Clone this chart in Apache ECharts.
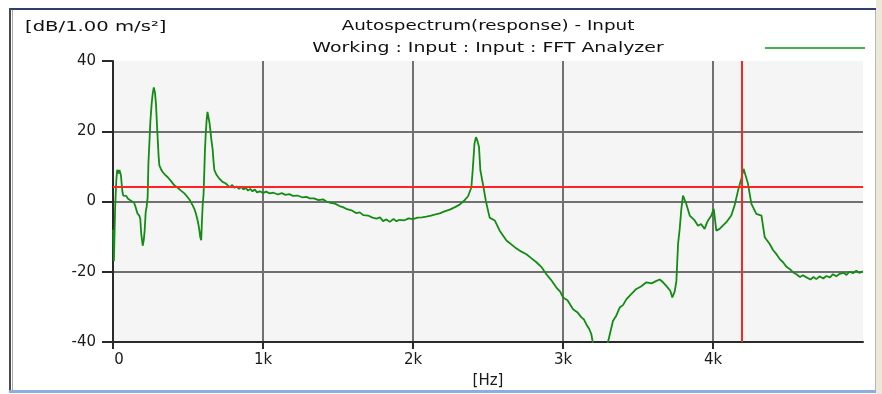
<!DOCTYPE html>
<html>
<head>
<meta charset="utf-8">
<script src="https://cdn.jsdelivr.net/npm/echarts@6/dist/echarts.min.js"></script>
<style>html,body{margin:0;padding:0;background:#fff}#c{width:882px;height:394px}</style>
</head>
<body>
<div id="c"></div>
<script>
const freqHz = [0,6,14,22,28,36,43,53,62,68,78,88,100,112,125,140,150,163,175,182,188,198,205,211,218,224,231,236,243,249,258,265,272,280,287,293,298,304,309,320,331,348,365,387,409,431,453,476,498,515,531,543,553,562,569,576,582,588,593,598,604,609,613,618,624,630,636,643,649,656,664,670,676,690,709,730,750,765,780,795,810,825,840,855,870,885,900,915,930,945,960,979,1000,1020,1045,1070,1100,1125,1150,1175,1200,1230,1260,1290,1311,1340,1370,1400,1423,1450,1480,1510,1533,1560,1590,1620,1645,1670,1700,1730,1756,1780,1800,1823,1845,1870,1890,1911,1940,1970,2000,2030,2060,2089,2120,2150,2178,2210,2245,2280,2311,2340,2367,2389,2398,2410,2420,2428,2440,2449,2470,2485,2511,2545,2578,2623,2678,2720,2756,2790,2823,2855,2889,2920,2956,2980,3000,3030,3067,3095,3123,3140,3156,3175,3189,3200,3230,3260,3290,3300,3333,3355,3378,3400,3423,3455,3489,3520,3556,3590,3623,3645,3667,3690,3715,3729,3745,3756,3767,3778,3789,3800,3810,3822,3845,3878,3900,3920,3944,3960,3967,3989,4005,4022,4044,4089,4122,4144,4167,4189,4204,4214,4233,4256,4289,4323,4345,4378,4400,4423,4445,4467,4490,4511,4535,4556,4580,4600,4623,4650,4670,4689,4710,4735,4756,4780,4800,4822,4845,4870,4890,4910,4933,4955,4975,5000];
const levelDb = [-8,-17,-2,6,9,8,9,7.4,3,1.7,1.4,1.6,0.8,0.4,0.1,-0.3,-1.5,-3.4,-4,-5,-9.1,-12.6,-11,-8.3,-3,-1.6,1.2,10.8,17,22.7,28,30.8,32.5,31,27.4,22,17.9,13,10.3,9.2,8.4,7.6,6.9,5.8,4.6,3.9,3.1,2.3,1.2,0.2,-1.1,-2.2,-3.5,-5,-6.4,-8.2,-10.2,-11,-5.4,-1,2.2,9,14.6,19,23.1,25.5,25,22.5,20.3,17.5,15,11.5,8.9,7.6,6.5,5.6,5.2,4.6,4.1,4.7,3.9,4.3,3.6,4.2,3.4,3.9,3.1,3.6,2.9,3.4,2.6,2.9,2.4,2.8,2.3,2.5,2.0,2.4,1.9,2.1,1.6,1.7,1.2,1.3,0.9,0.9,0.4,0.6,0.0,-0.4,-0.6,-1.3,-1.6,-2.2,-2.5,-3.3,-3.1,-3.9,-4.0,-4.6,-4.9,-4.5,-5.6,-5.1,-5.8,-5.0,-5.6,-5.2,-5.4,-4.8,-5.0,-4.6,-4.5,-4.3,-4.0,-3.7,-3.4,-2.8,-2.3,-1.6,-0.9,0.2,1.5,4.0,8.9,16.5,18.3,17.5,15.5,8.9,4.1,0.3,-4.6,-5.4,-8.3,-11.1,-13.0,-14.2,-15.0,-16.2,-17.3,-18.6,-20.7,-22.3,-24.5,-25.6,-27.3,-28.1,-30.7,-31.5,-33.0,-33.6,-35.0,-36.3,-37.8,-40.5,-45,-46,-42,-40,-34,-32.5,-30.2,-29.5,-27.8,-26.4,-24.9,-24.2,-23.0,-23.3,-22.6,-22.2,-23.0,-24.1,-25.4,-27.3,-25.6,-22.6,-12.1,-7.8,-2.1,1.7,1.4,-0.7,-4.0,-5.4,-6.9,-6.4,-7.8,-6.0,-5.4,-4.0,-2.1,-8.3,-7.8,-5.9,-4.0,-1.1,3.1,6.5,9.3,9.0,5.1,-0.7,-3.5,-4.0,-10.2,-12.1,-13.8,-15.0,-16.4,-17.3,-18.6,-19.2,-20.2,-20.7,-21.5,-21.0,-21.6,-22.2,-21.5,-22.1,-21.3,-21.9,-21.2,-21.6,-20.7,-21.3,-20.6,-20.3,-20.9,-20.0,-20.4,-19.7,-20.3,-19.9];
const xTickHz = [0,1000,2000,3000,4000];
const yTickDb = [-40,-20,0,20,40];
const cursorHz = 4190;
const cursorDb = 4.3;
const unitLabel = '[dB/1.00 m/s²]';
const titleLine1 = 'Autospectrum(response) - Input';
const titleLine2 = 'Working : Input : Input : FFT Analyzer';
const xName = '[Hz]';

const chart = echarts.init(document.getElementById('c'), null, {renderer:'canvas'});
const FONT = '"DejaVu Sans", Verdana, sans-serif';
const series = freqHz.map((f,i)=>[f, levelDb[i]]);
chart.setOption({
  animation:false,
  backgroundColor:'#ffffff',
  grid:{left:113, top:61, width:750, height:281, show:true, backgroundColor:'#f5f5f5', borderWidth:0},
  xAxis:{
    type:'value', min:xTickHz[0], max:5000, interval:1000,
    name:xName, nameLocation:'middle', nameGap:32,
    nameTextStyle:{fontFamily:FONT, fontSize:15, color:'#1a1a1a'},
    axisLine:{show:true, onZero:false, lineStyle:{color:'#2a2a2a', width:2}},
    axisTick:{show:true, length:7, lineStyle:{color:'#2a2a2a', width:2}},
    axisLabel:{showMaxLabel:false, margin:11, fontFamily:FONT, fontSize:15, color:'#1a1a1a',
      formatter:v=> xTickHz.includes(v) ? (v===0?'{z|0}':(v/1000)+'k') : '',
      rich:{z:{fontFamily:FONT, fontSize:15, color:'#1a1a1a', padding:[0,0,0,12]}}},
    splitLine:{show:true, showMinLine:false, showMaxLine:false, lineStyle:{color:'#707070', width:2}}
  },
  yAxis:{
    type:'value', min:yTickDb[0], max:yTickDb[yTickDb.length-1], interval:20,
    axisLine:{show:true, onZero:false, lineStyle:{color:'#2a2a2a', width:2}},
    axisTick:{show:true, length:11, lineStyle:{color:'#2a2a2a', width:2}},
    axisLabel:{margin:17, fontFamily:FONT, fontSize:15, color:'#1a1a1a'},
    splitLine:{show:true, showMinLine:false, showMaxLine:false, lineStyle:{color:'#707070', width:2}}
  },
  series:[{
    type:'line', data:series, showSymbol:false, symbol:'none', clip:true,
    lineStyle:{color:'#138c13', width:1.8},
    markLine:{silent:true, symbol:['none','none'], label:{show:false},
      lineStyle:{color:'#ff2424', width:2, type:'solid'},
      data:[{xAxis:cursorHz},{yAxis:cursorDb}]}
  }],
  graphic:[
    {type:'rect', shape:{x:876,y:0,width:6,height:394}, style:{fill:'#ece9d8'}, z:-10},
    {type:'rect', shape:{x:875,y:8,width:1,height:384}, style:{fill:'#b8b8b8'}, z:-10},
    {type:'rect', shape:{x:9,y:8,width:867,height:2}, style:{fill:'#2f4068'}, z:-10},
    {type:'rect', shape:{x:9,y:8,width:2,height:384}, style:{fill:'#4a4a4a'}, z:-10},
    {type:'rect', shape:{x:12,y:10,width:1,height:382}, style:{fill:'#a8a8a8'}, z:-10},
    {type:'rect', shape:{x:9,y:390,width:867,height:3}, style:{fill:'#8aaee0'}, z:-10},
    {type:'text', x:25, y:27, scaleX:1.4, style:{text:unitLabel, font:'14px '+FONT, fill:'#111', align:'left', verticalAlign:'middle'}},
    {type:'text', x:488, y:26, scaleX:1.31, style:{text:titleLine1, font:'14px '+FONT, fill:'#111', align:'center', verticalAlign:'middle'}},
    {type:'text', x:488, y:48, scaleX:1.35, style:{text:titleLine2, font:'14px '+FONT, fill:'#111', align:'center', verticalAlign:'middle'}},
    {type:'line', shape:{x1:765,y1:48,x2:865,y2:48}, style:{stroke:'#0f960f', lineWidth:1.5}}
  ]
});
</script>
</body>
</html>
